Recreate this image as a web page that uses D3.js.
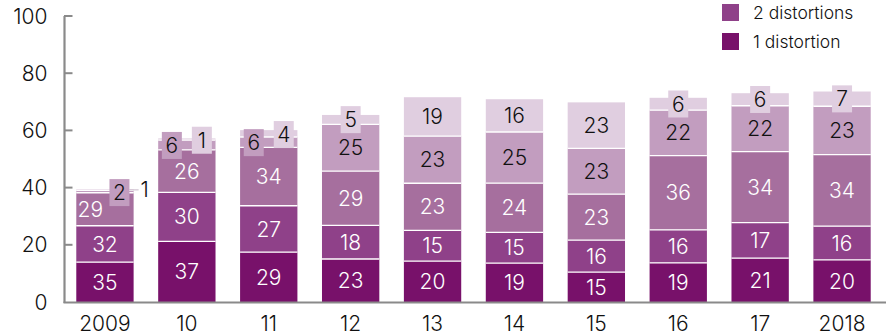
<!DOCTYPE html>
<html><head><meta charset="utf-8">
<script src="https://cdn.jsdelivr.net/npm/d3@7"></script>
<style>body{margin:0;background:#fff}svg{display:block;font-family:Inter,"DejaVu Sans",sans-serif;font-weight:300}</style>
</head><body><svg id="c" width="886" height="335"></svg>
<script>
const years = ["2009","10","11","12","13","14","15","16","17","2018"];
const totals = [39.4, 57.2, 60.1, 65.4, 71.6, 70.9, 69.8, 71.4, 73.0, 73.6];
const oneDist   = [35,37,29,23,20,19,15,19,21,20];
const twoDist   = [32,30,27,18,15,15,16,16,17,16];
const threeDist = [29,26,34,29,23,24,23,36,34,34];
const fourDist  = [2,6,6,25,23,25,23,22,22,23];
const fiveDist  = [1,1,4,5,19,16,23,6,6,7];
const yTicks = [0,20,40,60,80,100];
const legendLabels = ["2 distortions","1 distortion"];

const seriesVals = [oneDist,twoDist,threeDist,fourDist,fiveDist];
const colors = ["#78116a","#8f4189","#a66f9e","#c29dbf","#e0cee0"];
const textColors = ["#fff","#fff","#fff","#111","#111"];

const svg = d3.select("#c");
const x = d3.scaleBand().domain(years).range([64,883]).paddingInner(0.3).paddingOuter(0.15);
const y = d3.scaleLinear().domain([0,100]).range([302,16]);

const table = years.map((yr,i)=>{
  const sum = d3.sum(seriesVals, s=>s[i]);
  const row = {year:yr};
  seriesVals.forEach((s,k)=>{ row["s"+k] = totals[i]*s[i]/sum; row["p"+k]=s[i]; });
  return row;
});
const keys = ["s0","s1","s2","s3","s4"];
const stacked = d3.stack().keys(keys)(table);

stacked.forEach((layer,k)=>{
  svg.append("g").selectAll("rect").data(layer).join("rect")
    .attr("x", d=>x(d.data.year))
    .attr("width", x.bandwidth())
    .attr("y", d=>y(d[1]))
    .attr("height", d=>y(d[0])-y(d[1]))
    .attr("fill", colors[k]);
});
stacked.forEach((layer,k)=>{
  if(k===0) return;
  svg.append("g").selectAll("line").data(layer).join("line")
    .attr("x1", d=>x(d.data.year)).attr("x2", d=>x(d.data.year)+x.bandwidth())
    .attr("y1", d=>y(d[0])).attr("y2", d=>y(d[0]))
    .attr("stroke","#fff").attr("stroke-width",1.3);
});

svg.append("line").attr("x1",64.5).attr("x2",64.5).attr("y1",y(100)).attr("y2",y(0)+1)
  .attr("stroke","#8a8a8a").attr("stroke-width",2.2);
svg.append("line").attr("x1",63.5).attr("x2",886).attr("y1",y(0)+0.5).attr("y2",y(0)+0.5)
  .attr("stroke","#8a8a8a").attr("stroke-width",2.2);
const yt = svg.append("g");
yTicks.forEach(t=>{
  if(t>0) yt.append("line").attr("x1",64).attr("x2",72.5).attr("y1",y(t)).attr("y2",y(t))
    .attr("stroke","#8a8a8a").attr("stroke-width",2);
  yt.append("text").attr("x",47.5).attr("y",y(t)).attr("dy","0.36em").attr("text-anchor","end")
    .attr("font-size",21).attr("fill","#111").text(t);
});
svg.append("g").selectAll("text").data(years).join("text")
  .attr("x", d=>x(d)+x.bandwidth()/2).attr("y",331).attr("text-anchor","middle")
  .attr("font-size",21).attr("fill","#111").text(d=>d);

const FS = 21;
const lab = svg.append("g").attr("font-size",FS);
function boxLabel(cx, cy, txt, k){
  const w = txt.length*12+8, h = 27;
  lab.append("rect").attr("x",cx-w/2).attr("y",cy-h/2).attr("width",w).attr("height",h).attr("fill",colors[k]);
  lab.append("text").attr("x",cx).attr("y",cy).attr("dy","0.36em").attr("text-anchor","middle")
    .attr("fill",textColors[k]).text(txt);
}
table.forEach((row,i)=>{
  const x0 = x(row.year), bw = x.bandwidth(), cx = x0+bw/2;
  const segs = stacked.map(l=>l[i]);
  const h = segs.map(d=>y(d[0])-y(d[1]));
  const mid = segs.map(d=>(y(d[0])+y(d[1]))/2);
  const thinTop = h[3] < 5 && h[4] < 5;
  segs.forEach((d,k)=>{
    const txt = String(row["p"+k]);
    if(h[k] >= 18){
      const lx = (thinTop && k===2) ? x0 + 14 : cx;
      lab.append("text").attr("x",lx).attr("y",mid[k]).attr("dy","0.36em").attr("text-anchor","middle")
        .attr("fill",textColors[k]).text(txt);
      return;
    }
    const bothSmall = h[3] < 18 && h[4] < 18;
    if(!bothSmall){ boxLabel(cx, mid[k], txt, k); return; }
    if(thinTop){
      if(k===3) boxLabel(cx+14.5, mid[k]+1, txt, k);
      else {
        lab.append("line").attr("x1",x0+bw-4).attr("x2",x0+bw+5).attr("y1",mid[k]).attr("y2",mid[k])
          .attr("stroke","#c8b8c8").attr("stroke-width",1);
        lab.append("text").attr("x",x0+bw+7).attr("y",mid[k]).attr("dy","0.36em").attr("fill","#111").text(txt);
      }
    } else {
      if(k===3) boxLabel(cx-15, mid[k]+0.5, txt, k);
      else boxLabel(cx+15, mid[k]+1, txt, k);
    }
  });
});

const leg = svg.append("g");
[1,0].forEach((k,j)=>{
  leg.append("rect").attr("x",722).attr("y",4+j*29).attr("width",17).attr("height",17).attr("fill",colors[k]);
  leg.append("text").attr("x",753).attr("y",12.5+j*29).attr("dy","0.36em").attr("font-size",17.5)
    .attr("fill","#111").text(legendLabels[j]);
});
</script></body></html>
